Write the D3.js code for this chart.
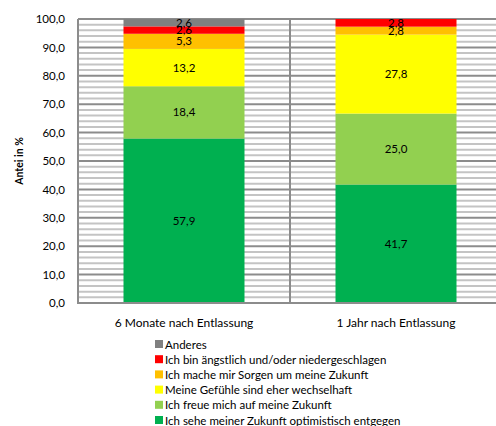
<!DOCTYPE html>
<html>
<head>
<meta charset="utf-8">
<script src="https://cdn.jsdelivr.net/npm/d3@7"></script>
<style>
body { margin: 0; background: #fff; }
text { font-family: Lato, "Open Sans", sans-serif; fill: #000; }
</style>
</head>
<body>
<script>
var categories = ["6 Monate nach Entlassung", "1 Jahr nach Entlassung"];
var seriesNames = ["Ich sehe meiner Zukunft optimistisch entgegen", "Ich freue mich auf meine Zukunft",
  "Meine Gefühle sind eher wechselhaft", "Ich mache mir Sorgen um meine Zukunft",
  "Ich bin ängstlich und/oder niedergeschlagen", "Anderes"];
var optimistisch = [57.9, 41.7];
var freue = [18.4, 25.0];
var wechselhaft = [13.2, 27.8];
var sorgen = [5.3, 2.8];
var aengstlich = [2.6, 2.8];
var anderes = [2.6, 0];
var colors = ["#00b050", "#92d050", "#ffff00", "#ffc000", "#ff0000", "#808080"];
var yTicks = [0, 10, 20, 30, 40, 50, 60, 70, 80, 90, 100];

var seriesVals = [optimistisch, freue, wechselhaft, sorgen, aengstlich, anderes];
var rows = categories.map(function (c, i) {
  var r = { cat: c };
  seriesNames.forEach(function (s, k) { r[s] = seriesVals[k][i]; });
  return r;
});

var W = 496, H = 426;
var mLeft = 78, mTop = 19, plotRight = 502, mBottom = 303;

var svg = d3.select("body").append("svg").attr("width", W).attr("height", H);

var y = d3.scaleLinear().domain([0, 100]).range([mBottom, mTop]);
var x = d3.scaleBand().domain(categories).range([mLeft, plotRight]);

// gestreifter Hintergrund: feine Linien alle 2, Hauptlinien alle 10
var minor = d3.range(2, 100, 2).filter(function (v) { return v % 10 !== 0; });
svg.append("g").selectAll("line").data(minor).enter().append("line")
  .attr("x1", mLeft).attr("x2", W)
  .attr("y1", function (d) { return y(d); }).attr("y2", function (d) { return y(d); })
  .attr("stroke", "#c4c4c4").attr("stroke-width", 2);
svg.append("g").selectAll("line").data(yTicks.slice(1)).enter().append("line")
  .attr("x1", mLeft).attr("x2", W)
  .attr("y1", function (d) { return y(d); }).attr("y2", function (d) { return y(d); })
  .attr("stroke", "#8c8c8c").attr("stroke-width", 2);

// Trennlinie zwischen den Kategorien
var divX = x(categories[1]);
svg.append("line").attr("x1", divX).attr("x2", divX)
  .attr("y1", mTop).attr("y2", mBottom).attr("stroke", "#8c8c8c").attr("stroke-width", 2);

var stack = d3.stack().keys(seriesNames)(rows);
var barW = 121;
var groups = svg.append("g").selectAll("g").data(stack).enter().append("g")
  .attr("fill", function (d, i) { return colors[i]; });
groups.selectAll("rect").data(function (d) { return d; }).enter().append("rect")
  .attr("x", function (d) { return x(d.data.cat) + x.bandwidth() / 2 - barW / 2; })
  .attr("width", barW)
  .attr("y", function (d) { return y(Math.min(d[1], 100)); })
  .attr("height", function (d) { return y(d[0]) - y(Math.min(d[1], 100)); });

// Werte
stack.forEach(function (s) {
  svg.append("g").selectAll("text").data(s.filter(function (d) { return d[1] - d[0] > 0; })).enter().append("text")
    .attr("x", function (d) { return x(d.data.cat) + x.bandwidth() / 2; })
    .attr("y", function (d) { return y((d[0] + Math.min(d[1], 100)) / 2) + 4; })
    .attr("text-anchor", "middle").attr("font-size", 11.5)
    .text(function (d) { return d3.format(".1f")(d[1] - d[0]).replace(".", ","); });
});

// Achsen
var yAxis = d3.axisLeft(y).tickValues(yTicks).tickSize(0).tickPadding(13)
  .tickFormat(function (d) { return d3.format(".1f")(d).replace(".", ","); });
var ga = svg.append("g").attr("transform", "translate(" + mLeft + ",0)").call(yAxis);
ga.select(".domain").remove();
ga.selectAll("text").attr("font-size", 11.5).style("font-family", "Lato, sans-serif");
svg.append("line").attr("x1", mLeft).attr("x2", mLeft).attr("y1", mTop).attr("y2", mBottom + 1)
  .attr("stroke", "#8c8c8c").attr("stroke-width", 2);
svg.append("line").attr("x1", mLeft).attr("x2", W).attr("y1", mBottom).attr("y2", mBottom)
  .attr("stroke", "#8c8c8c").attr("stroke-width", 2);

svg.append("g").selectAll("text").data(categories).enter().append("text")
  .attr("x", function (d) { return x(d) + x.bandwidth() / 2; }).attr("y", 327)
  .attr("text-anchor", "middle").attr("font-size", 12).text(function (d) { return d; });

svg.append("text").attr("transform", "translate(23,161) rotate(-90)")
  .attr("text-anchor", "middle").attr("font-size", 10.5).attr("font-weight", "bold").text("Antei in %");

// Legende (umgekehrte Reihenfolge)
var leg = svg.append("g").selectAll("g").data(seriesNames.slice().reverse()).enter().append("g")
  .attr("transform", function (d, i) { return "translate(155," + (340 + i * 15.2) + ")"; });
leg.append("rect").attr("width", 8).attr("height", 8)
  .attr("fill", function (d) { return colors[seriesNames.indexOf(d)]; });
leg.append("text").attr("x", 10).attr("y", 8.5).attr("font-size", 11.5).text(function (d) { return d; });
</script>
</body>
</html>
